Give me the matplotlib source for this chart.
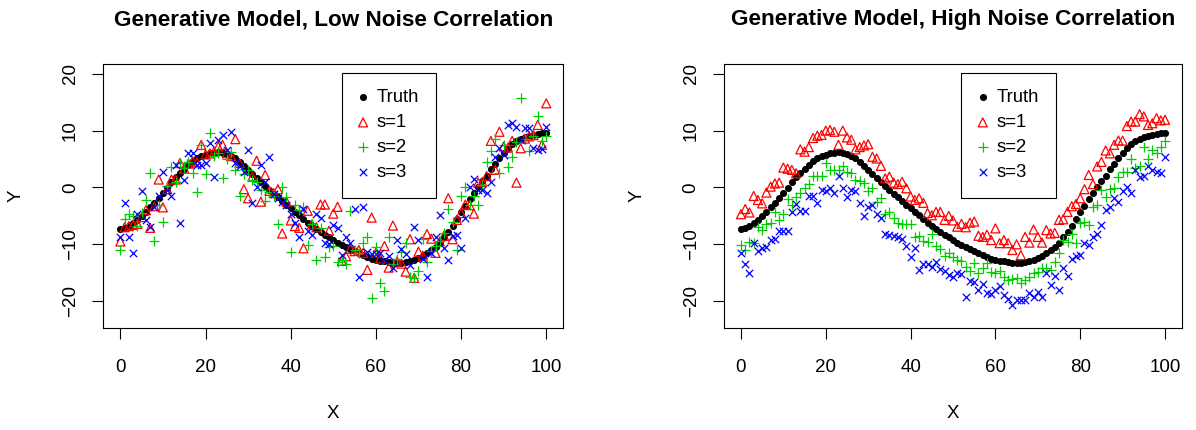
import matplotlib.pyplot as plt
import numpy as np

# x positions 0..100
x = np.arange(0, 101)

# smooth "truth" curve
truth = [-7.3, -7.1, -6.8, -6.3, -5.7, -5.0, -4.3, -3.5, -2.7, -1.8,
         -1.0, -0.1, 0.9, 1.8, 2.6, 3.3, 4.0, 4.6, 5.1, 5.5,
         5.8, 6.0, 6.15, 6.2, 6.1, 5.9, 5.6, 5.1, 4.5, 3.8,
         3.1, 2.4, 1.6, 0.9, 0.2, -0.4, -1.1, -1.7, -2.3, -3.0,
         -3.6, -4.3, -4.9, -5.6, -6.2, -6.8, -7.3, -7.9, -8.4, -8.8,
         -9.3, -9.7, -10.1, -10.5, -10.9, -11.2, -11.6, -11.9, -12.2, -12.5,
         -12.7, -12.9, -13.0, -13.1, -13.2, -13.2, -13.2, -13.1, -12.9, -12.7,
         -12.4, -12.0, -11.6, -11.0, -10.4, -9.7, -8.8, -7.8, -6.7, -5.5,
         -4.4, -3.2, -2.1, -1.0, 0.0, 1.1, 2.1, 3.2, 4.2, 5.1,
         6.0, 6.9, 7.6, 8.2, 8.6, 8.9, 9.1, 9.3, 9.4, 9.5, 9.5]

# low noise correlation panel
low_s1 = [-9.5, -7.0, -6.8, -6.6, -6.4, -5.2, -4.0, -7.1, -3.3, 1.4,
          -3.5, -0.3, 1.4, 1.4, 4.3, 3.3, 4.2, 4.6, 4.4, 7.5,
          5.8, 6.0, 6.3, 7.2, 7.5, 6.0, 5.5, 8.5, 4.3, -0.3,
          -1.9, 1.9, 4.7, -2.5, 2.2, -0.6, -1.0, -0.3, -8.1, -2.5,
          -5.8, -6.8, -7.1, -10.7, -4.1, -6.5, -7.0, -3.0, -3.0, -7.6,
          -4.6, -3.4, -12.9, -12.1, -10.8, -11.2, -11.0, -11.5, -14.5, -5.3,
          -11.5, -12.5, -10.3, -14.1, -6.7, -13.0, -13.4, -14.8, -9.1, -15.9,
          -11.3, -12.0, -8.2, -9.0, -11.5, -9.5, -8.5, -1.9, -9.1, -5.7,
          -4.5, -3.0, -3.1, -4.6, 0.85, 1.0, 2.0, 8.2, 3.1, 9.8,
          7.2, 7.0, 8.2, 0.85, 6.9, 8.6, 9.0, 9.2, 11.0, 7.5, 14.8]
low_s2 = [-11.0, -5.6, -4.6, -5.0, -6.7, -4.5, -2.2, 2.5, -9.5, -3.1,
          -6.0, 0.3, 3.6, 1.0, 4.3, 3.5, 4.5, 2.5, -0.8, 7.4,
          2.4, 9.6, 5.5, 6.0, 1.7, 5.0, 6.3, 3.1, -1.5, 2.3,
          3.0, 1.3, 1.0, -0.5, -2.3, -0.8, -1.5, -6.5, 0.15, -1.7,
          -11.3, -3.1, -4.0, -3.5, -10.1, -6.5, -12.7, -7.2, -12.3, -10.4,
          -10.3, -13.1, -12.7, -13.4, -4.1, -11.0, -11.6, -9.8, -8.7, -19.4,
          -10.4, -16.8, -18.2, -8.7, -13.4, -12.5, -11.3, -9.8, -15.8, -16.0,
          -14.7, -9.1, -13.1, -11.1, -10.3, -9.5, -8.0, -3.8, -6.0, -11.0,
          -1.5, 0.0, -3.0, -1.5, -3.1, 0.5, 4.4, 6.5, 8.5, 2.6,
          7.5, 3.6, 5.3, 8.0, 15.7, 8.5, 6.5, 9.0, 12.6, 8.1, 9.1]
low_s3 = [-8.7, -2.7, -8.7, -11.5, -4.6, -0.6, -5.8, -6.9, -3.4, -1.5,
          2.8, -0.5, -1.5, 4.0, -6.3, 1.3, 6.0, 6.1, 4.0, 4.0,
          4.3, 7.8, 1.8, 8.4, 9.3, 6.6, 9.8, 4.3, 3.7, 2.8,
          6.6, -2.7, 0.0, 4.0, 1.0, 5.3, -1.1, -1.9, -2.5, -3.0,
          -4.6, -6.3, -8.7, -3.7, -7.6, -8.4, -4.6, -5.4, -9.7, -10.0,
          -6.6, -7.2, -11.9, -8.7, -9.7, -3.7, -15.7, -3.5, -11.3, -11.7,
          -11.7, -11.6, -12.7, -12.1, -14.2, -9.3, -10.9, -11.7, -13.7, -7.0,
          -9.3, -12.5, -15.7, -11.5, -8.7, -4.8, -10.7, -12.7, -8.5, -8.4,
          -10.7, -5.4, 0.15, 1.5, -0.4, -0.4, -1.0, 1.0, 5.4, 6.9,
          5.7, 11.0, 11.3, 10.7, 8.4, 10.4, 10.5, 6.9, 6.6, 6.7, 10.7]

# high noise correlation panel
high_s1 = [-4.7, -3.8, -4.4, -1.5, -2.2, -2.8, -0.9, 0.15, 0.7, 0.85,
           3.5, 3.3, 3.1, 2.5, 6.7, 6.3, 7.1, 8.7, 9.1, 9.25,
           10.0, 10.1, 9.8, 7.5, 10.0, 8.8, 8.4, 6.7, 7.1, 7.4,
           7.6, 5.4, 5.1, 3.8, 1.6, 1.9, 0.85, 0.6, 1.0, -0.15,
           -1.6, -2.2, -1.9, -2.7, -4.5, -4.9, -4.3, -4.3, -5.7, -5.0,
           -5.8, -6.9, -6.4, -7.0, -6.2, -6.0, -8.5, -8.7, -8.3, -9.25,
           -7.2, -9.8, -9.25, -9.8, -11.0, -10.0, -11.9, -8.7, -9.7, -7.4,
           -8.7, -9.7, -7.5, -8.1, -8.0, -5.7, -5.6, -4.3, -3.3, -2.9,
           -1.9, -0.3, 2.2, 0.6, 3.7, 4.5, 6.5, 6.0, 7.5, 8.25,
           8.25, 10.8, 11.6, 11.6, 12.9, 12.5, 11.0, 11.3, 12.2, 11.8, 11.9]
high_s2 = [-10.1, -11.0, -9.55, -9.7, -6.9, -7.5, -6.4, -6.3, -4.4, -5.7,
           -4.7, -2.1, -3.1, -1.6, -1.0, -0.15, 0.6, 2.0, 2.0, 2.0,
           4.3, 3.1, 3.1, 3.1, 3.7, 2.8, 2.5, 1.4, 1.2, 0.85,
           -0.6, -0.15, -2.5, -1.8, -4.7, -4.4, -5.3, -6.2, -6.4, -6.4,
           -6.4, -8.7, -8.5, -9.4, -9.6, -8.2, -10.3, -10.9, -12.0, -11.5,
           -12.2, -12.7, -12.9, -14.0, -14.7, -13.2, -15.0, -14.2, -13.2, -14.8,
           -15.0, -14.7, -15.7, -16.3, -16.1, -15.9, -16.8, -16.3, -15.7, -15.1,
           -14.8, -14.2, -14.2, -14.5, -13.1, -11.5, -9.25, -9.55, -8.2, -9.7,
           -6.3, -6.0, -6.6, -3.4, -3.1, -0.44, -1.6, -0.32, -0.15, 1.8,
           2.8, 2.8, 5.0, 3.4, 3.8, 7.1, 5.0, 6.6, 6.1, 7.1, 8.1]
high_s3 = [-11.6, -13.4, -15.0, -9.7, -11.1, -10.7, -10.5, -9.25, -9.1, -7.6,
           -7.6, -7.6, -4.4, -2.9, -4.1, -4.1, -1.5, -1.5, -2.7, -0.4,
           -0.7, -0.15, -1.0, 2.0, -0.15, -1.7, -0.4, -0.7, -2.7, -5.1,
           -3.5, -3.1, -4.6, -5.4, -8.1, -8.4, -8.5, -8.7, -9.0, -10.3,
           -12.2, -10.7, -14.5, -13.5, -13.5, -14.0, -13.1, -14.4, -14.7, -15.4,
           -15.8, -15.1, -15.2, -19.2, -16.4, -16.6, -18.1, -17.0, -18.6, -18.8,
           -18.1, -17.4, -18.9, -19.7, -20.7, -19.8, -19.8, -19.8, -18.6, -19.3,
           -18.4, -19.2, -15.1, -17.2, -15.6, -18.1, -14.2, -15.6, -12.5, -12.1,
           -11.9, -9.7, -10.1, -8.7, -8.1, -6.6, -4.0, -3.4, -1.9, -2.5,
           -0.7, 0.15, -1.0, 3.1, 1.8, 2.0, 3.7, 3.1, 2.8, 2.5, 5.3]

titles = ["Generative Model, Low Noise Correlation",
          "Generative Model, High Noise Correlation"]
legend_labels = ["Truth", "s=1", "s=2", "s=3"]

plt.rcParams['font.family'] = ['Liberation Sans', 'DejaVu Sans']

fig = plt.figure(figsize=(11.96, 4.3), dpi=100)
ax1 = fig.add_axes([103.3 / 1196, 102 / 430, 460 / 1196, 264 / 430])
ax2 = fig.add_axes([724 / 1196, 102 / 430, 458 / 1196, 264 / 430])

panels = [(ax1, titles[0], low_s1, low_s2, low_s3),
          (ax2, titles[1], high_s1, high_s2, high_s3)]

for ax, title, s1, s2, s3 in panels:
    h0 = ax.scatter(x, truth, s=26, c='black', marker='o', linewidths=0)
    h1 = ax.scatter(x, s1, s=42, marker='^', facecolors='none',
                    edgecolors='#FF0000', linewidths=0.9)
    h2 = ax.scatter(x, s2, s=50, marker='+', c='#00CD00', linewidths=0.9)
    h3 = ax.scatter(x, s3, s=28, marker='x', c='#0000FF', linewidths=0.9)

    ax.set_xlim(-4, 104)
    ax.set_ylim(-24.72, 21.72)
    ax.set_xticks([0, 20, 40, 60, 80, 100])
    ax.set_yticks([-20, -10, 0, 10, 20])
    ax.tick_params(direction='out', length=8, width=0.8, labelsize=13.5,
                   colors='black')
    ax.tick_params(axis='x', pad=14.5)
    ax.tick_params(axis='y', pad=9.5, labelrotation=90)
    for lab in ax.get_yticklabels():
        lab.set_verticalalignment('center')
    for sp in ax.spines.values():
        sp.set_color('black')
        sp.set_linewidth(0.8)

    ax.set_title(title, fontsize=16.2, fontweight='bold', pad=28)
    ax.set_xlabel("X", fontsize=13.5, labelpad=21)
    ax.set_ylabel("Y", fontsize=13.5, labelpad=27)

    leg = ax.legend([h0, h1, h2, h3], legend_labels, loc='upper left',
                    bbox_to_anchor=(52, 20.2), bbox_transform=ax.transData,
                    fancybox=False, framealpha=1, edgecolor='black',
                    fontsize=13.3, borderpad=0.9, labelspacing=0.43,
                    handletextpad=0.5, handlelength=0.5, borderaxespad=0)
    leg.get_frame().set_linewidth(0.8)

fig.savefig("out.png", dpi=100)
